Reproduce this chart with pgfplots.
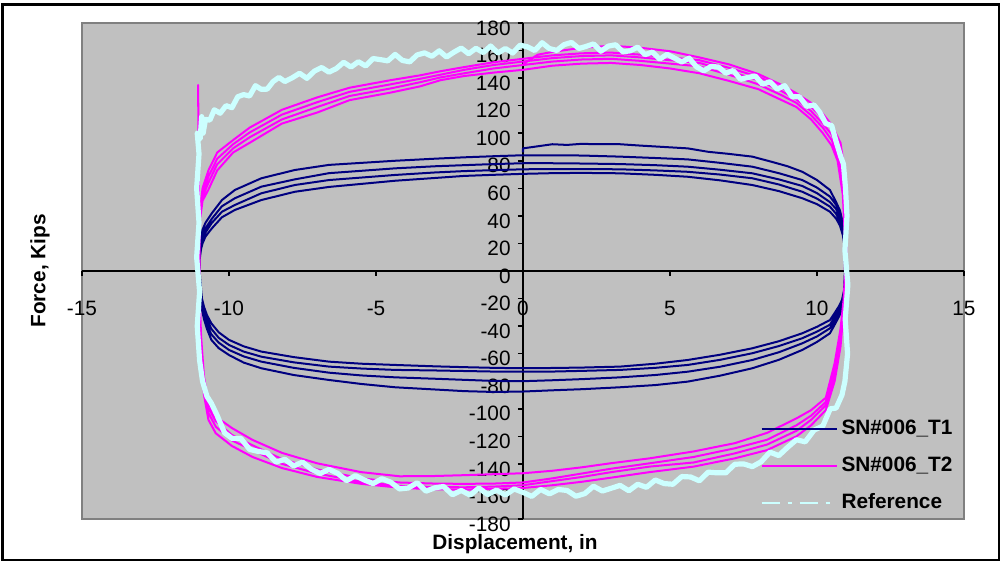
\documentclass[border=0pt]{standalone}
\usepackage{fontspec}
\setmainfont{Liberation Sans}
\usepackage{pgfplots}
\pgfplotsset{compat=1.18}
\definecolor{plotgray}{HTML}{C0C0C0}
\definecolor{bordergray}{HTML}{808080}
\definecolor{navyc}{HTML}{000080}
\definecolor{magc}{HTML}{FF00FF}
\definecolor{refc}{HTML}{CCFFFF}
\begin{document}
\begin{tikzpicture}
\path[use as bounding box] (0,0) rectangle (501pt,282.5pt);
\fill[white] (0,0) rectangle (501pt,282.5pt);
\draw[black, line width=1.2pt] (1.2pt,2.5pt) rectangle (499.5pt,280.3pt);
\begin{axis}[
  at={(41pt,23pt)}, anchor=south west,
  scale only axis, width=441pt, height=248pt,
  xmin=-15, xmax=15, ymin=-180, ymax=180,
  axis lines=middle,
  axis line style={-, black, line width=1pt},
  axis background/.style={fill=plotgray, draw=bordergray, line width=1pt},
  xtick={-15,-10,...,15}, ytick={-180,-160,...,180},
  hide obscured x ticks=false, hide obscured y ticks=false,
  tick align=outside, major tick length=2.5pt,
  tick style={black, line width=0.8pt},
  /pgf/number format/assume math mode=true,
  tick label style={font=\fontsize{10.4}{12}\selectfont},
  xticklabel style={anchor=center, inner sep=0pt, yshift=-16pt},
  yticklabel style={anchor=east, inner sep=0pt, xshift=-3.5pt, yshift=-2.5pt},
  every axis x label/.style={at={(axis cs:-0.27,-180)}, anchor=center, yshift=-12.5pt, font=\fontsize{10.4}{12}\selectfont\bfseries},
  every axis y label/.style={at={(axis cs:-15,0)}, rotate=90, anchor=center, yshift=21pt, font=\fontsize{10.4}{12}\selectfont\bfseries},
  xlabel={Displacement, in},
  ylabel={Force, Kips},
  legend style={at={(axis cs:14.76,-177.8)}, anchor=south east, draw=none, fill=none,
    font=\fontsize{10.4}{12}\selectfont\bfseries, row sep=5.5pt, inner sep=0pt,
    cells={anchor=west}},
  legend image code/.code={\draw[#1] (0pt,0pt) -- (37.5pt,0pt);},
  every axis plot/.append style={line join=round, mark=none},
]
% SN#006_T1
\addplot[navyc, line width=1pt] coordinates {
(0,86) (0,89) (0.5,90.5) (1,92) (1.5,91.5) (2,92.3) (2.5,92) (3.3,92) (4,91) (4.8,90) (5.6,89) (6.3,86.5) (7,85) (7.8,83) (8.5,79) (9,76) (9.5,72) (10,66) (10.44,58.8) (10.65,50) (10.78,44) (10.88,35) (10.95,25) (10.95,0)
(10.92,-20) (10.85,-28) (10.75,-33) (10.6,-39) (10.44,-45.2) (10,-51.5) (9.5,-57.3) (8.7,-64.5) (7.8,-70.6) (6.7,-76) (5.6,-80.3) (4.5,-82.8) (3.3,-84.4) (2,-85.8) (1,-86.6) (0,-87.5)
(-1,-87.8) (-2,-87.2) (-3,-86) (-4.35,-84.4) (-5.5,-82) (-6.6,-79.1) (-7.8,-75.5) (-8.9,-70.6) (-9.5,-66.5) (-10,-61) (-10.35,-56) (-10.6,-50) (-10.75,-42) (-10.85,-35) (-10.92,-28) (-10.97,-15) (-11,0) (-11,15)
(-10.95,25) (-10.9,30) (-10.8,35) (-10.58,42) (-10.24,51.5) (-9.8,58.8) (-8.9,67.3) (-7.76,73.3) (-6.6,77) (-4.35,80) (-3,81.5) (-2,82.5) (-1,83.3) (0,84)
(1,84) (2,83.8) (3.3,83) (4.5,82) (5.6,81) (6.7,78.5) (7.8,75.7) (8.7,71) (9.5,66) (10,60.5) (10.44,54) (10.65,48) (10.78,42) (10.88,34) (10.93,26) (10.95,0)
(10.92,-18) (10.85,-25) (10.75,-30) (10.6,-36) (10.44,-41.6) (10,-47.5) (9.5,-52.5) (8.7,-59) (7.8,-64.6) (6.7,-69.5) (5.6,-73.1) (4.5,-75.5) (3.3,-77.2) (2,-78.5) (1,-79.3) (0,-80)
(-1,-79.8) (-2,-79) (-3,-78.2) (-4.35,-77.2) (-5.5,-75.8) (-6.6,-73.8) (-7.8,-70.3) (-8.9,-65.8) (-9.5,-62) (-10,-57.3) (-10.35,-52) (-10.6,-46) (-10.75,-39) (-10.85,-32) (-10.92,-25) (-10.97,-12) (-11,0) (-11,12)
(-10.95,20) (-10.9,26) (-10.8,31) (-10.58,38) (-10.24,47) (-9.8,52.8) (-8.9,61.2) (-7.76,66.5) (-6.6,71) (-4.35,74.5) (-3,76) (-2,76.8) (-1,77.6) (0,78.2)
(1,78.2) (2,78) (3.3,77.6) (4.5,76.8) (5.6,75.7) (6.7,73.5) (7.8,70.9) (8.7,66.5) (9.5,61.7) (10,56.5) (10.44,50) (10.65,45) (10.78,39) (10.88,31) (10.93,23) (10.95,0)
(10.92,-16) (10.85,-23) (10.75,-28) (10.6,-33.5) (10.44,-39) (10,-44) (9.5,-48.8) (8.7,-54.5) (7.8,-59.7) (6.7,-64.5) (5.6,-68.2) (4.5,-70.3) (3.3,-71.8) (2,-72.5) (1,-73) (0,-73.1)
(-1,-73) (-2,-72.6) (-3,-72.2) (-4.35,-71.8) (-5.5,-70.8) (-6.6,-69.4) (-7.8,-66.3) (-8.9,-62.2) (-9.5,-58.5) (-10,-53.7) (-10.35,-48.5) (-10.6,-42) (-10.75,-35) (-10.85,-29) (-10.92,-22) (-10.97,-10) (-11,0) (-11,10)
(-10.95,18) (-10.9,23) (-10.8,28) (-10.58,35) (-10.24,43) (-9.8,47.9) (-8.9,56.4) (-7.76,62.4) (-6.6,66) (-4.35,69.7) (-3,71.5) (-2,72.5) (-1,73.2) (0,73.8)
(1,74) (2,74) (3.3,73.8) (4.5,73) (5.6,72) (6.7,70) (7.8,67.3) (8.7,62.8) (9.5,57.5) (10,52.5) (10.44,46.7) (10.65,41.5) (10.78,36) (10.88,28) (10.93,21) (10.95,0)
(10.92,-14) (10.85,-21) (10.75,-25.5) (10.6,-30.5) (10.44,-35.6) (10,-40.5) (9.5,-45.2) (8.7,-51) (7.8,-56.1) (6.7,-60.8) (5.6,-64.6) (4.5,-67.3) (3.3,-69.4) (2,-70.1) (1,-70.4) (0,-70.6)
(-1,-70.3) (-2,-69.8) (-3,-69.2) (-4.35,-68.2) (-5.5,-67.3) (-6.6,-65.8) (-7.8,-62.5) (-8.9,-58.5) (-9.5,-54.7) (-10,-50) (-10.35,-44.5) (-10.6,-38) (-10.75,-32) (-10.85,-26) (-10.92,-20) (-10.97,-8) (-11,0) (-11,8)
(-10.95,16) (-10.9,20) (-10.8,25) (-10.58,31) (-10.24,39) (-9.8,44.3) (-8.9,51.5) (-7.76,57.5) (-6.6,61) (-4.35,65.5) (-3,67.5) (-2,69) (-1,69.8) (0,70.5)
(1,71) (2,71.2) (3.3,70.9) (4.5,69.8) (5.6,68.4) (6.7,65.8) (7.8,62.4) (8.7,58) (9.5,52.8) (10,48.5) (10.44,43) (10.65,38) (10.78,33) (10.88,26) (10.93,19) (10.95,5)
};
\addlegendentry{SN\#006\_T1}
% SN#006_T2
\addplot[magc, line width=1pt] coordinates {
(0,150) (0.5,157) (1,159) (2,162) (3,163.5) (4,162) (5,159.5) (6,155) (7,150) (8,143) (8.8,135) (9.3,129) (9.8,122) (10.2,114) (10.5,106) (10.8,93) (10.95,71) (11,40) (11,0)
(10.95,-10) (10.9,-30) (10.8,-55) (10.6,-80) (10.3,-101) (9.8,-112) (9.3,-120) (8.3,-130) (7.2,-136) (5.8,-142) (4.3,-146) (3,-150) (2,-153) (1,-155.5) (0,-157.5)
(-1,-158.3) (-2,-158.7) (-3,-158.5) (-4.2,-157.3) (-5.5,-154.5) (-7,-149.5) (-8.2,-143) (-9.2,-135) (-9.9,-127) (-10.45,-117.8) (-10.7,-108) (-10.85,-90) (-10.95,-60) (-11,-30)
(-11.02,20) (-11.05,135) (-11.02,40) (-10.98,45)
(-10.9,60) (-10.7,73) (-10.4,86) (-9.86,95) (-9.3,104) (-8.2,117) (-7,126) (-5.9,133) (-4.5,138.5) (-3.5,142) (-2.8,145) (-2,148) (-1,151.5) (0,154)
(1,156.5) (2,158) (3,158.5) (4,157) (5,155) (6,153) (7,147.5) (8,141) (8.8,133) (9.3,127) (9.8,119) (10.2,111) (10.5,103) (10.8,89) (10.95,65) (11,30) (11,0)
(10.95,-8) (10.9,-27) (10.8,-50) (10.6,-75) (10.3,-97.5) (9.8,-108) (9.3,-116) (8.3,-126) (7.2,-132.4) (5.8,-139) (4.3,-142) (3,-146) (2,-149.5) (1,-152.5) (0,-155.5)
(-1,-156.5) (-2,-157) (-3,-156.8) (-4.2,-156) (-5.5,-153) (-7,-147) (-8.2,-140) (-9.2,-130) (-9.9,-123) (-10.45,-113) (-10.7,-103) (-10.85,-85) (-10.95,-55) (-11,-25)
(-11,20) (-10.98,42)
(-10.9,57) (-10.7,68.5) (-10.4,81.5) (-9.86,92) (-9.3,100.5) (-8.2,113.5) (-7,122.5) (-5.9,130) (-4.5,135.5) (-3.5,139.5) (-2.8,142.5) (-2,146) (-1,149.5) (0,152)
(1,154.5) (2,156) (3,156.5) (4,155) (5,153) (6,151) (7,145) (8,138.5) (8.8,130.5) (9.3,124.5) (9.8,116) (10.2,107) (10.5,99) (10.8,85) (10.95,58) (11,25) (11,0)
(10.95,-6) (10.9,-24) (10.8,-46) (10.6,-71) (10.3,-95) (9.8,-105) (9.3,-112) (8.3,-122.5) (7.2,-128.7) (5.8,-135) (4.3,-139.6) (3,-143.5) (2,-147) (1,-150.5) (0,-153.5)
(-1,-154.3) (-2,-154.5) (-3,-154.3) (-4.2,-153.5) (-5.5,-150.5) (-7,-144) (-8.2,-136.5) (-9.2,-126.5) (-9.9,-119) (-10.45,-109) (-10.7,-99) (-10.85,-80) (-10.95,-50) (-11,-20)
(-11,20) (-10.98,40)
(-10.9,54) (-10.7,64) (-10.4,77.5) (-9.86,89) (-9.3,97) (-8.2,110) (-7,119) (-5.9,127) (-4.5,132.5) (-3.5,137) (-2.8,140.5) (-2,143.5) (-1,147) (0,149.5)
(1,152) (2,153.5) (3,154) (4,152.5) (5,150.5) (6,148.5) (7,142.5) (8,135.5) (8.8,127.5) (9.3,122) (9.8,113) (10.2,104) (10.5,95) (10.75,82) (10.92,55) (10.98,22) (10.98,0)
(10.95,-4) (10.9,-22) (10.8,-42) (10.6,-67) (10.3,-92) (9.8,-101) (9.3,-107) (8.3,-117.5) (7.2,-125) (5.8,-131) (4.3,-136) (3,-139.5) (2,-142.5) (1,-145) (0,-146.8)
(-1,-147.5) (-2,-148.2) (-3,-148.8) (-4.2,-149) (-5.5,-146) (-7,-139.6) (-8.2,-132) (-9.2,-122.6) (-9.9,-114) (-10.45,-105.7) (-10.7,-95) (-10.85,-77) (-10.95,-47) (-11,-18)
(-11,20) (-10.98,38)
(-10.9,51) (-10.7,59) (-10.4,73) (-9.86,86) (-9.3,93) (-8.2,107) (-7,115) (-5.9,124) (-4.5,129.5) (-3.5,134) (-2.8,138.5) (-2,141.5) (-1,144) (0,146)
(1,149) (2,150.5) (3,151) (4,149.5) (5,147) (6,143.5) (7,138) (8,132) (8.8,124) (9.3,119) (9.8,110) (10.2,100) (10.5,91) (10.7,80) (10.88,55) (10.95,22) (10.95,0)
};
\addlegendentry{SN\#006\_T2}
% Reference
\addplot[refc, line width=2.6pt,
  legend image code/.code={\draw[refc, line width=1pt, dash pattern=on 9pt off 4pt on 2pt off 4pt] (0pt,0pt) -- (37.5pt,0pt);}] coordinates {
(-11.0,-65) (-11.08,-40) (-11.0,-15) (-11.1,10) (-11.02,35) (-11.1,60) (-11.02,85) (-11.08,100) (-10.98,96) (-10.93,112) (-10.88,100) (-10.8,110)
(-10.65,109.5) (-10.5,117) (-10.3,114.5) (-10.1,120) (-9.9,118.5) (-9.7,126.5) (-9.5,128) (-9.3,127) (-9.1,134.5) (-8.9,131.8) (-8.7,132) (-8.5,137.5) (-8.3,140.5) (-8.1,137.5) (-7.85,140.2) (-7.6,143.5) (-7.35,139.8) (-7.1,145) (-6.85,147.7) (-6.6,144.3) (-6.35,146.9) (-6.1,151.5) (-5.85,148) (-5.6,151.9) (-5.35,148.8) (-5.1,154.2) (-4.85,153.4) (-4.6,152.5) (-4.35,157.2) (-4.1,152.8) (-3.85,151.8) (-3.6,156.8) (-3.35,158.3) (-3.1,155.8) (-2.85,159.8) (-2.6,155.3) (-2.35,158.8) (-2.1,161.8) (-1.85,157.7)
(-1.6,161.6) (-1.35,158.5) (-1.1,163.3) (-0.85,158.2) (-0.6,161.5) (-0.35,158.2) (-0.1,163.9) (0.15,162.7) (0.4,160) (0.65,165.7) (0.9,161.4) (1.15,160.1) (1.4,164.3) (1.65,165.9) (1.9,161.5) (2.15,163) (2.4,164.8) (2.65,159.5) (2.9,163.2) (3.15,164.2) (3.4,159.1) (3.65,159.8) (3.9,162.5) (4.15,157) (4.4,158.9) (4.65,153.8) (4.9,157.2) (5.15,154.5) (5.4,151.7) (5.65,154.5) (5.9,148.2) (6.15,145.3) (6.4,148.5) (6.65,148) (6.9,143.6) (7.15,145.5) (7.4,139.1) (7.65,140.5) (7.9,141.5) (8.15,135.5)
(8.4,137.4) (8.65,132.1) (8.9,134.5) (9.15,126.5) (9.4,126.5) (9.65,119.5) (9.9,120.5) (10.1,115) (10.3,107) (10.5,105.5) (10.65,94) (10.8,83.5) (10.9,77.5) (10.97,60)
(11.02,40) (10.95,15) (11.05,-10) (10.96,-35) (11.04,-60) (10.95,-80) (10.85,-90)
(10.65,-99.5) (10.45,-100) (10.2,-112.5) (9.9,-115.5) (9.6,-124) (9.3,-122.5) (9.0,-128) (8.7,-134) (8.4,-131.5) (8.1,-138.5) (7.8,-142) (7.5,-140) (7.2,-140.3) (6.9,-146.5) (6.6,-146.5) (6.3,-146) (6.0,-152.3) (5.7,-149.5) (5.4,-149.2) (5.1,-154.8) (4.8,-154.3) (4.5,-151.7) (4.2,-157) (3.9,-154.8) (3.6,-159.5) (3.3,-155.6) (3.0,-157.7) (2.7,-159.7) (2.4,-156.2) (2.1,-161.6) (1.8,-163.5) (1.5,-159.3) (1.2,-158.6) (0.9,-161.8) (0.6,-158.5) (0.3,-163.6) (0,-160.7) (-0.3,-158.2) (-0.6,-162.6)
(-0.9,-159) (-1.2,-162.3) (-1.5,-157.5) (-1.8,-162.7) (-2.1,-159.3) (-2.4,-162.4) (-2.7,-156.4) (-3.0,-157.4) (-3.3,-159.8) (-3.6,-153.7) (-3.9,-157.5) (-4.2,-158.2) (-4.5,-153.3) (-4.8,-150.8) (-5.1,-154.3) (-5.4,-151.7) (-5.7,-148.5) (-6.0,-152.2) (-6.3,-146.9) (-6.6,-144) (-6.9,-147) (-7.2,-143.9) (-7.5,-138.7) (-7.8,-141.5) (-8.1,-136.7) (-8.4,-138.7) (-8.7,-132) (-9.0,-131) (-9.3,-129.5) (-9.6,-121.5) (-9.9,-121.5) (-10.15,-117.5) (-10.4,-105) (-10.6,-96) (-10.75,-91) (-10.9,-80) (-11.0,-65)
};
\addlegendentry{Reference}
\end{axis}
\end{tikzpicture}
\end{document}
